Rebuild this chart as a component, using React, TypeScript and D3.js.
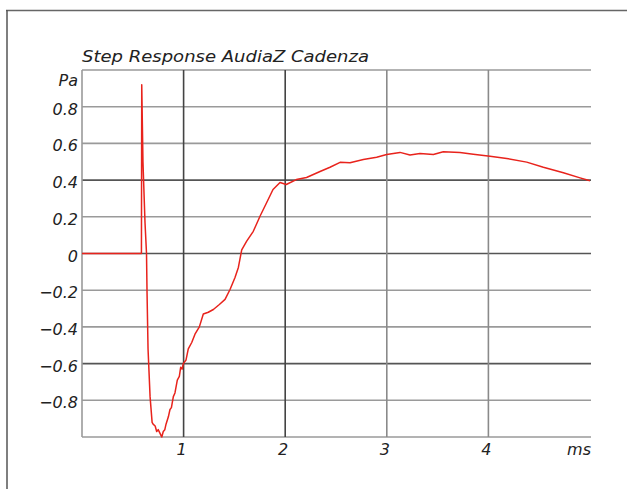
import React from "react";
import * as d3 from "d3";

// Step response samples: time (ms) and sound pressure (Pa)
const timeMs = [
  0, 0.585, 0.588, 0.6, 0.62, 0.635, 0.64, 0.65, 0.67, 0.69, 0.7, 0.72, 0.735, 0.75, 0.768, 0.785,
  0.8, 0.815, 0.827, 0.85, 0.866, 0.88, 0.899, 0.915, 0.938, 0.958, 0.971, 0.985, 0.997, 1.024,
  1.046, 1.08, 1.112, 1.155, 1.194, 1.243, 1.293, 1.352, 1.408, 1.457, 1.506, 1.539, 1.572,
  1.621, 1.686, 1.752, 1.818, 1.88, 1.949, 2.01, 2.11, 2.21, 2.343, 2.441, 2.54, 2.638, 2.769,
  2.9, 2.999, 3.13, 3.228, 3.327, 3.458, 3.556, 3.72, 3.851, 4.016, 4.18, 4.377, 4.541, 4.738,
  4.902, 5.0,
];
const pressurePa = [
  0, 0, 0.92, 0.5, 0.17, 0, -0.21, -0.52, -0.78, -0.92, -0.93, -0.94, -0.97, -0.96, -0.98, -1.0,
  -0.97, -0.96, -0.93, -0.89, -0.85, -0.84, -0.78, -0.76, -0.69, -0.67, -0.62, -0.63, -0.6, -0.58,
  -0.52, -0.485, -0.44, -0.4, -0.33, -0.32, -0.305, -0.278, -0.25, -0.196, -0.131, -0.076, 0.02,
  0.067, 0.121, 0.203, 0.278, 0.349, 0.387, 0.376, 0.403, 0.414, 0.447, 0.47, 0.497, 0.494, 0.512,
  0.524, 0.539, 0.551, 0.537, 0.545, 0.54, 0.554, 0.55, 0.541, 0.53, 0.518, 0.498, 0.47, 0.44,
  0.412, 0.396,
];

const xTicks = [1, 2, 3, 4];
const yTicks = [0.8, 0.6, 0.4, 0.2, 0, -0.2, -0.4, -0.6, -0.8];
const yGrid = [1, 0.8, 0.6, 0.4, 0.2, 0, -0.2, -0.4, -0.6, -0.8, -1];
const title = "Step Response AudiaZ Cadenza";
const yUnit = "Pa";
const xUnit = "ms";

const W = 627;
const H = 489;
const left = 82;
const right = 590;
const top = 70;
const bottom = 437;

const darkY = new Set([0.4, 0, -0.6]);
const darkX = new Set([1, 2]);

const font = "'DejaVu Sans', 'Liberation Sans', sans-serif";

export default function App() {
  const x = d3.scaleLinear().domain([0, 5]).range([left, right]);
  const y = d3.scaleLinear().domain([-1, 1]).range([bottom, top]);
  const pts: [number, number][] = timeMs.map((t, i) => [t, pressurePa[i]]);
  const line = d3
    .line<[number, number]>()
    .x((d) => x(d[0]))
    .y((d) => y(d[1]));

  const fmt = (v: number) => (v < 0 ? "\u2212" + Math.abs(v).toString().replace(/^0/, "0") : v.toString());

  return (
    <svg
      width={W}
      height={H}
      style={{ position: "absolute", left: 0, top: 0, background: "#fff" }}
    >
      <rect x={0} y={0} width={W} height={H} fill="#fff" />
      {/* outer frame */}
      <line x1={6} x2={W} y1={10.5} y2={10.5} stroke="#666" strokeWidth={1.5} />
      <line x1={7} x2={7} y1={10} y2={H} stroke="#555" strokeWidth={1.5} />

      {/* horizontal grid */}
      {yGrid.map((v) => (
        <line
          key={"h" + v}
          x1={left}
          x2={right + 1}
          y1={y(v)}
          y2={y(v)}
          stroke={darkY.has(v) ? "#555" : "#9a9a9a"}
          strokeWidth={1.6}
        />
      ))}
      {/* vertical grid */}
      <line x1={left} x2={left} y1={top} y2={bottom} stroke="#9a9a9a" strokeWidth={1.6} />
      {xTicks.map((v) => (
        <line
          key={"v" + v}
          x1={x(v)}
          x2={x(v)}
          y1={top}
          y2={bottom}
          stroke={darkX.has(v) ? "#444" : "#8a8a8a"}
          strokeWidth={1.6}
        />
      ))}

      {/* step response curve */}
      <path d={line(pts) ?? ""} fill="none" stroke="#e8231c" strokeWidth={1.5} strokeLinejoin="round" />

      {/* title */}
      <text
        x={82}
        y={62}
        fontFamily={font}
        fontStyle="italic"
        fontSize={16}
        fill="#222"
        textLength={287}
        lengthAdjust="spacingAndGlyphs"
      >
        {title}
      </text>

      {/* y labels */}
      <text x={78} y={y(1) + 16} textAnchor="end" fontFamily={font} fontStyle="italic" fontSize={16} fill="#222">
        {yUnit}
      </text>
      {yTicks.map((v) => (
        <text
          key={"yl" + v}
          x={78}
          y={y(v) + 8}
          textAnchor="end"
          fontFamily={font}
          fontStyle="italic"
          fontSize={16}
          fill="#222"
        >
          {fmt(v)}
        </text>
      ))}

      {/* x labels */}
      {xTicks.map((v) => (
        <text
          key={"xl" + v}
          x={x(v) - 2}
          y={455}
          textAnchor="middle"
          fontFamily={font}
          fontStyle="italic"
          fontSize={16}
          fill="#222"
        >
          {v}
        </text>
      ))}
      <text x={591} y={455} textAnchor="end" fontFamily={font} fontStyle="italic" fontSize={16} fill="#222">
        {xUnit}
      </text>
    </svg>
  );
}
